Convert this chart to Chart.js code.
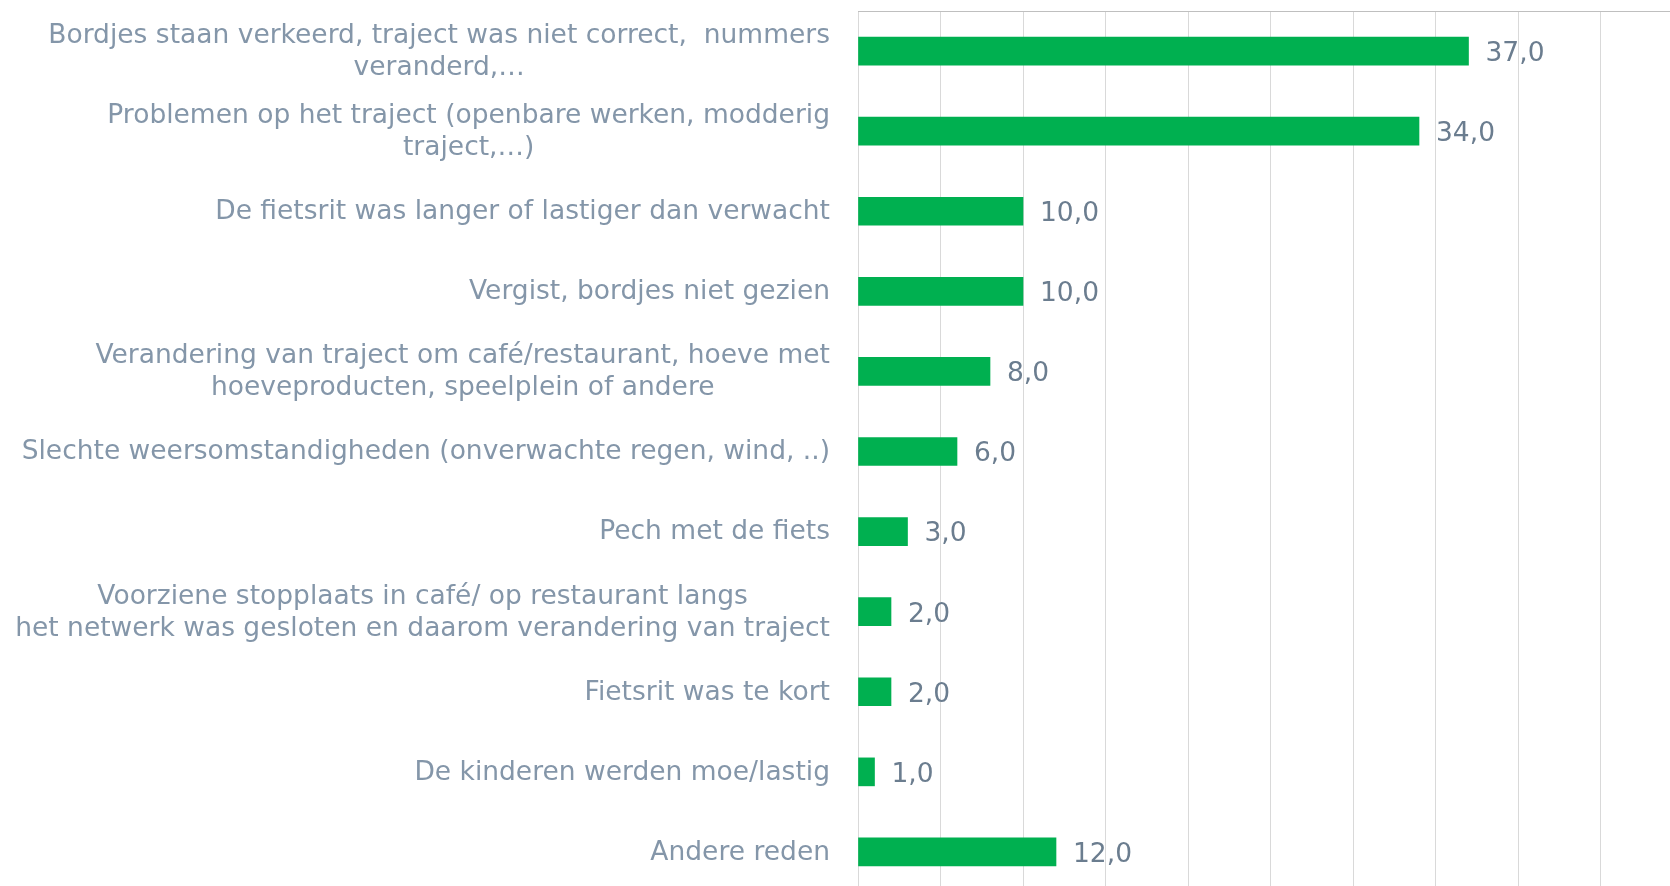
<!DOCTYPE html>
<html>
<head>
<meta charset="utf-8">
<script src="https://cdn.jsdelivr.net/npm/chart.js@4"></script>
<style>
  html, body { margin: 0; padding: 0; background: #fff; overflow: hidden; }
  #wrap { position: relative; width: 1684px; height: 892px; }
</style>
</head>
<body>
<div id="wrap"><canvas id="redenChart"></canvas></div>
<script>
// categories (top to bottom), lines of each label
const categories = [
  ['Bordjes staan verkeerd, traject was niet correct,  nummers', 'veranderd,…'],
  ['Problemen op het traject (openbare werken, modderig', 'traject,…)'],
  ['De fietsrit was langer of lastiger dan verwacht'],
  ['Vergist, bordjes niet gezien'],
  ['Verandering van traject om café/restaurant, hoeve met', 'hoeveproducten, speelplein of andere'],
  ['Slechte weersomstandigheden (onverwachte regen, wind, ..)'],
  ['Pech met de fiets'],
  ['Voorziene stopplaats in café/ op restaurant langs', 'het netwerk was gesloten en daarom verandering van traject'],
  ['Fietsrit was te kort'],
  ['De kinderen werden moe/lastig'],
  ['Andere reden']
];
const values = [37, 34, 10, 10, 8, 6, 3, 2, 2, 1, 12];

const labelFont = '26.5px "DejaVu Sans", Verdana, sans-serif';

// category labels: block right-aligned, lines centred to each other
const catLabels = {
  id: 'catLabels',
  afterDraw(chart) {
    const c = chart.ctx;
    const y = chart.scales.y;
    const right = chart.chartArea.left - 28;
    const lh = 32;
    c.save();
    c.font = labelFont;
    c.fillStyle = '#8496A9';
    c.textAlign = 'center';
    c.textBaseline = 'middle';
    categories.forEach((lines, i) => {
      const w = Math.max(...lines.map(l => c.measureText(l).width));
      const cx = right - w / 2;
      const cy = y.getPixelForValue(i) + 1;
      const top = cy - (lines.length - 1) * lh / 2;
      lines.forEach((l, j) => c.fillText(l, cx, top + j * lh));
    });
    c.restore();
  }
};

// value labels at the end of each bar
const valueLabels = {
  id: 'valueLabels',
  afterDatasetsDraw(chart) {
    const c = chart.ctx;
    const meta = chart.getDatasetMeta(0);
    c.save();
    c.font = labelFont;
    c.fillStyle = '#6B7D8F';
    c.textAlign = 'left';
    c.textBaseline = 'middle';
    meta.data.forEach((bar, i) => {
      c.fillText(values[i].toFixed(1).replace('.', ','), bar.x + 17, bar.y + 3);
    });
    c.restore();
  }
};

new Chart(document.getElementById('redenChart'), {
  type: 'bar',
  data: {
    labels: categories.map(l => l.join(' ')),
    datasets: [{
      data: values,
      backgroundColor: '#00B050',
      barThickness: 28
    }]
  },
  options: {
    indexAxis: 'y',
    responsive: true,
    maintainAspectRatio: false,
    animation: false,
    layout: { padding: { left: 858, top: 11, right: 1, bottom: 0 } },
    plugins: { legend: { display: false }, tooltip: { enabled: false } },
    scales: {
      x: {
        position: 'top',
        min: 0,
        max: 50,
        ticks: { display: false, stepSize: 5 },
        grid: { color: '#D9D9D9', lineWidth: 1, drawTicks: false },
        border: { color: '#BFBFBF', width: 1 }
      },
      y: {
        ticks: { display: false },
        grid: { display: false, drawTicks: false },
        border: { display: false }
      }
    }
  },
  plugins: [catLabels, valueLabels]
});
</script>
</body>
</html>
